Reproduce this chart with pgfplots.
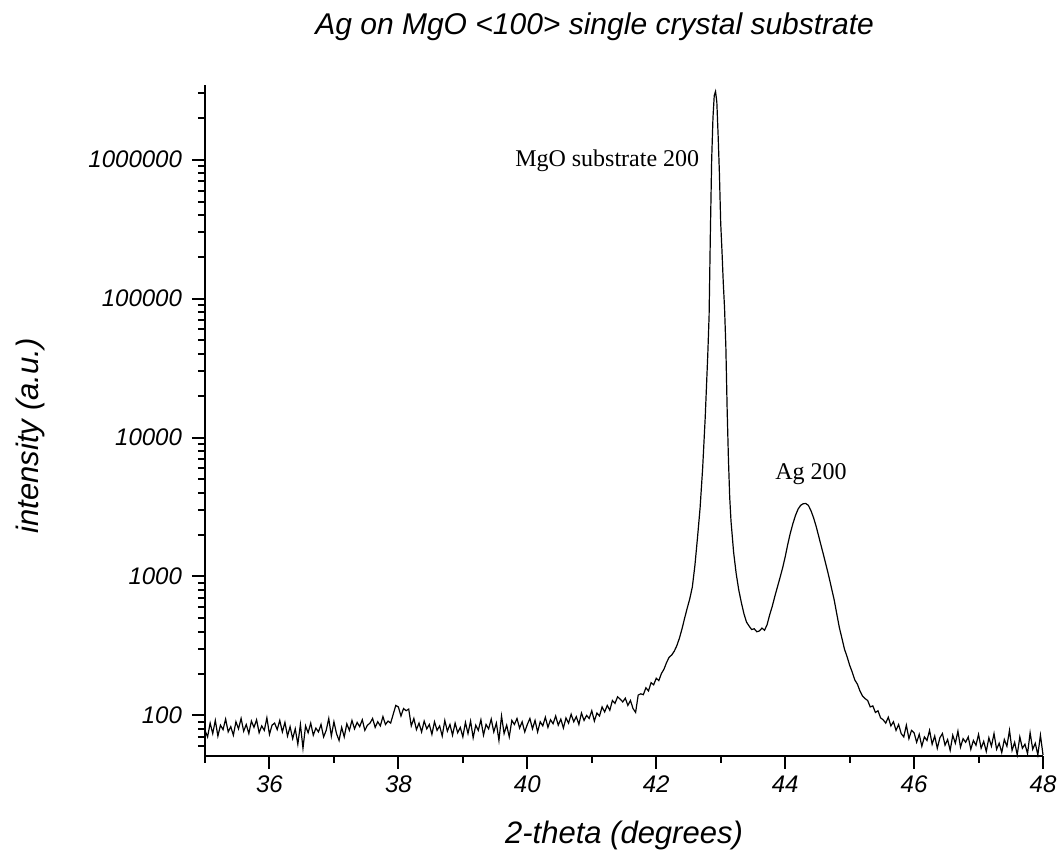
\documentclass[border=0pt]{standalone}
\usepackage{fontspec}
\setmainfont{Liberation Sans}
\newfontfamily\annfont{Liberation Serif}
\usepackage{pgfplots}
\pgfplotsset{compat=1.18}

\begin{document}
\begin{tikzpicture}
\useasboundingbox (-102.5pt,-48pt) rectangle (426.5pt,378pt);
\begin{axis}[
    scale only axis,
    width=419pt, height=335.5pt,
    ymode=log,
    xmin=35, xmax=48,
    ymin=51, ymax=3450000,
    axis lines=left,
    axis line style={-, line width=1pt},
    tick align=outside,
    major tick length=6.5pt,
    minor tick length=3.5pt,
    every tick/.style={black, line width=1pt},
    xtick={36,38,...,48},
    minor xtick={35,37,...,47},
    ytick={100,1000,10000,100000,1000000},
    yticklabels={100,1000,10000,100000,1000000},
    minor ytick={60,70,80,90,200,300,400,500,600,700,800,900,
      2000,3000,4000,5000,6000,7000,8000,9000,
      20000,30000,40000,50000,60000,70000,80000,90000,
      200000,300000,400000,500000,600000,700000,800000,900000,
      2000000,3000000},
    /pgf/number format/assume math mode=true,
    ticklabel style={font=\fontsize{12}{14}\selectfont\itshape},
    yticklabel style={xshift=-1.5pt},
    xlabel={2-theta (degrees)},
    ylabel={intensity (a.u.)},
    xlabel style={font=\fontsize{15.5}{18}\selectfont\itshape, at={(rel axis cs:0.5,0)}, anchor=center, yshift=-39.5pt},
    ylabel style={font=\fontsize{15.5}{18}\selectfont\itshape, at={(rel axis cs:0,0.477)}, anchor=center, yshift=87.5pt},
    title={Ag on MgO <100> single crystal substrate},
    title style={font=\fontsize{15}{18}\selectfont\itshape, at={(rel axis cs:0.465,1)}, anchor=center, yshift=23pt},
    clip=false,
]
\addplot[black, line width=0.6pt] table {
x y
35.00 78
35.04 70
35.08 88
35.12 74
35.16 92
35.20 71
35.24 85
35.28 79
35.32 94
35.36 76
35.40 83
35.44 72
35.48 90
35.52 80
35.56 95
35.60 77
35.64 86
35.68 74
35.72 91
35.76 82
35.80 93
35.84 75
35.88 84
35.92 78
35.96 96
36.00 73
36.04 85
36.08 88
36.12 79
36.16 92
36.20 76
36.24 89
36.28 71
36.32 83
36.36 68
36.40 80
36.44 62
36.48 86
36.52 58
36.56 84
36.60 75
36.64 88
36.68 72
36.72 81
36.76 76
36.80 86
36.84 70
36.88 78
36.92 95
36.96 71
37.00 90
37.04 74
37.08 66
37.12 82
37.16 70
37.20 87
37.24 78
37.28 92
37.32 80
37.36 89
37.40 83
37.44 93
37.48 78
37.52 85
37.56 88
37.60 95
37.64 82
37.68 90
37.72 84
37.76 98
37.80 86
37.84 91
37.88 88
37.92 102
37.96 118
38.00 115
38.04 99
38.08 112
38.12 108
38.16 111
38.20 84
38.24 95
38.28 79
38.32 88
38.36 76
38.40 91
38.44 80
38.48 86
38.52 73
38.56 90
38.60 78
38.64 84
38.68 71
38.72 92
38.76 77
38.80 86
38.84 72
38.88 88
38.92 75
38.96 82
39.00 70
39.04 89
39.08 74
39.12 91
39.16 69
39.20 85
39.24 78
39.28 93
39.32 72
39.36 86
39.40 80
39.44 94
39.48 76
39.52 88
39.56 66
39.60 99
39.64 74
39.68 85
39.72 70
39.76 92
39.80 86
39.84 95
39.88 81
39.92 90
39.96 76
40.00 86
40.04 95
40.08 80
40.12 92
40.16 76
40.20 90
40.24 84
40.28 97
40.32 82
40.36 93
40.40 87
40.44 99
40.48 85
40.52 94
40.56 81
40.60 96
40.64 88
40.68 102
40.72 90
40.76 98
40.80 86
40.84 104
40.88 92
40.92 100
40.96 95
41.00 108
41.04 91
41.08 104
41.12 99
41.16 115
41.20 106
41.24 118
41.28 109
41.32 128
41.36 122
41.40 136
41.44 131
41.48 125
41.52 133
41.56 118
41.60 128
41.64 112
41.68 105
41.72 140
41.76 143
41.80 141
41.84 158
41.88 150
41.92 172
41.96 166
42.00 185
42.04 178
42.08 200
42.12 215
42.16 240
42.20 262
42.24 272
42.28 290
42.32 318
42.36 360
42.40 420
42.44 500
42.48 590
42.52 690
42.56 840
42.60 1200
42.64 1900
42.68 3100
42.72 6000
42.76 14000
42.80 40000
42.82 75000
42.84 300000
42.86 1000000
42.88 2000000
42.90 2900000
42.92 3100000
42.94 2600000
42.96 1500000
42.98 800000
43.00 350000
43.02 220000
43.04 130000
43.06 85000
43.08 45000
43.10 16000
43.12 7000
43.14 3700
43.16 2500
43.20 1500
43.24 1050
43.28 800
43.32 650
43.36 540
43.40 470
43.44 440
43.48 415
43.52 420
43.56 400
43.60 405
43.64 425
43.68 410
43.72 450
43.76 530
43.80 610
43.84 720
43.88 840
43.92 980
43.96 1150
44.00 1380
44.04 1700
44.08 2050
44.12 2400
44.16 2750
44.20 3050
44.24 3250
44.28 3340
44.32 3350
44.36 3250
44.40 2980
44.44 2650
44.48 2300
44.52 1950
44.56 1650
44.60 1400
44.64 1180
44.68 990
44.72 820
44.76 680
44.80 540
44.84 430
44.88 360
44.92 300
44.96 265
45.00 230
45.04 205
45.08 180
45.12 168
45.16 150
45.20 138
45.24 132
45.28 128
45.32 115
45.36 117
45.40 105
45.44 108
45.48 96
45.52 93
45.56 88
45.60 97
45.64 84
45.68 90
45.72 78
45.76 86
45.80 74
45.84 70
45.88 85
45.92 68
45.96 78
46.00 75
46.04 64
46.08 73
46.12 60
46.16 70
46.20 66
46.24 78
46.28 62
46.32 71
46.36 58
46.40 69
46.44 74
46.48 61
46.52 67
46.56 56
46.60 72
46.64 63
46.68 77
46.72 59
46.76 68
46.80 64
46.84 70
46.88 57
46.92 66
46.96 61
47.00 73
47.04 58
47.08 65
47.12 55
47.16 69
47.20 60
47.24 74
47.28 57
47.32 63
47.36 54
47.40 67
47.44 60
47.48 78
47.52 56
47.56 64
47.60 52
47.64 70
47.68 58
47.72 62
47.76 53
47.80 75
47.84 57
47.88 63
47.92 52
47.96 72
48.00 52
};
\node[font=\annfont\fontsize{12}{14}\selectfont] at (axis cs:41.24,980000) {MgO substrate 200};
\node[font=\annfont\fontsize{12}{14}\selectfont] at (axis cs:44.40,5500) {Ag 200};
\end{axis}
\end{tikzpicture}
\end{document}
